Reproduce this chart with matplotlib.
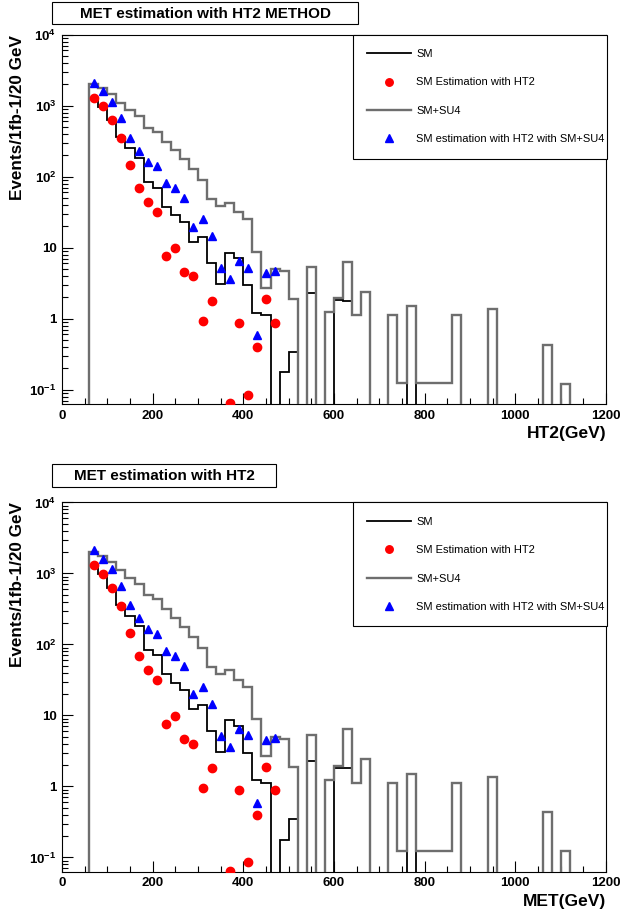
import numpy as np
import matplotlib
matplotlib.use("Agg")
import matplotlib.pyplot as plt
from matplotlib.patches import Rectangle
from matplotlib.ticker import FixedLocator, FixedFormatter, MultipleLocator, LogLocator, NullFormatter

plt.rcParams['font.family'] = ['Liberation Sans', 'DejaVu Sans']
plt.rcParams['mathtext.fontset'] = 'custom'
plt.rcParams['mathtext.rm'] = 'Liberation Sans:bold'
plt.rcParams['mathtext.bf'] = 'Liberation Sans:bold'
plt.rcParams['mathtext.it'] = 'Liberation Sans:bold:italic'

# ---------------- data (20 GeV bins, 0-1200) ----------------
bin_edges = np.arange(0, 1220, 20)

sm = [0, 0, 0, 1300, 970, 630, 360, 251, 184, 84,
      70, 38, 29, 23, 12.2, 14, 6.0, 3.05, 8.5, 7.2,
      3.0, 1.22, 1.13, 0, 0.176, 0.343, 0, 2.28, 0, 0,
      1.83, 1.79, 1.13, 2.4, 0, 0, 1.13, 0.123, 0, 0.123,
      0.123, 0.123, 0.123, 1.13, 0, 0, 0, 1.37, 0, 0,
      0, 0, 0, 0.43, 0, 0.122, 0, 0, 0, 0]

sm_su4 = [0, 0, 0, 2000, 1758, 1445, 1100, 869, 716, 490,
          430, 311, 238, 176, 127, 90, 48, 38.7, 43, 31.8,
          25.4, 8.8, 2.68, 4.96, 4.7, 1.88, 0, 5.3, 0, 1.25,
          1.94, 6.35, 1.13, 2.4, 0, 0, 1.13, 0.123, 1.52, 0.123,
          0.123, 0.123, 0.123, 1.13, 0, 0, 0, 1.37, 0, 0,
          0, 0, 0, 0.43, 0, 0.122, 0, 0, 0, 0]

est_x = [70, 90, 110, 130, 150, 170, 190, 210, 230, 250,
         270, 290, 310, 330, 370, 390, 410, 430, 450, 470]
est_sm = [1300, 975, 629, 352, 145, 69, 44, 31.5, 7.6, 9.8,
          4.6, 4.0, 0.94, 1.79, 0.065, 0.88, 0.085, 0.40, 1.88, 0.88]

est_su4_x = [70, 90, 110, 130, 150, 170, 190, 210, 230, 250,
             270, 290, 310, 330, 350, 370, 390, 410, 430, 450, 470]
est_su4 = [2109, 1610, 1138, 665, 354, 232, 163, 141, 80.7, 68.7,
           50, 19.8, 25.1, 14.7, 5.13, 3.59, 6.5, 5.23, 0.589, 4.45, 4.74]

titles = ["MET estimation with HT2 METHOD", "MET estimation with HT2"]
xlabels = ["HT2(GeV)", "MET(GeV)"]
ytick_vals = [0.1, 1, 10, 100, 1000, 10000]
ytick_labels = ["$10^{-1}$", "1", "10", "$10^{2}$", "$10^{3}$", "$10^{4}$"]
xtick_vals = [0, 200, 400, 600, 800, 1000, 1200]

# ---------------- layout (pixels of a 626x913 canvas) ----------------
W, H = 626, 913
panel_bottom_px = [404, 871.7]
panel_h_px = 369.3
title_box_y = [1.7, 464.3]
title_box_w = [306, 224]


def main():
    fig = plt.figure(figsize=(W / 100, H / 100), dpi=100)

    for k in range(2):
        ax = fig.add_axes([62 / W, 1 - panel_bottom_px[k] / H, 544 / W, panel_h_px / H])

        ax.stairs(sm, bin_edges, color='black', lw=1.3, baseline=0, zorder=2, label="SM")
        ax.plot(est_x, est_sm, ls='none', marker='o', ms=6, color='red',
                zorder=4, label="SM Estimation with HT2")
        ax.stairs(sm_su4, bin_edges, color='#6e6e6e', lw=1.7, baseline=0, zorder=3, label="SM+SU4")
        ax.plot(est_su4_x, est_su4, ls='none', marker='^', ms=6, color='blue',
                zorder=5, label="SM estimation with HT2 with SM+SU4")

        ax.set_yscale('log')
        ax.set_xlim(0, 1200)
        ax.set_ylim(0.063, 1e4)

        ax.xaxis.set_major_locator(FixedLocator(xtick_vals))
        ax.xaxis.set_minor_locator(MultipleLocator(50))
        ax.yaxis.set_major_locator(FixedLocator(ytick_vals))
        ax.yaxis.set_major_formatter(FixedFormatter(ytick_labels))
        ax.yaxis.set_minor_locator(LogLocator(base=10, subs=np.arange(2, 10)))
        ax.yaxis.set_minor_formatter(NullFormatter())

        ax.tick_params(which='both', direction='in', top=False, right=False, width=0.8)
        ax.tick_params(which='major', length=8, labelsize=9.5, pad=4)
        ax.tick_params(which='minor', length=4)
        for lab in ax.get_xticklabels() + ax.get_yticklabels():
            lab.set_fontweight('bold')
        for sp in ax.spines.values():
            sp.set_linewidth(0.8)

        ax.set_xlabel(xlabels[k], loc='right', fontsize=12.5, fontweight='bold')
        ax.xaxis.set_label_coords(1.0, -0.06)
        ax.set_ylabel("Events/1fb-1/20 GeV", loc='top', fontsize=12.3, fontweight='bold')
        ax.yaxis.set_label_coords(-0.068, 1.0)

        leg = ax.legend(loc='upper left', bbox_to_anchor=(0.535, 1.0, 0.467, 0), mode='expand',
                        borderaxespad=0, fontsize=8, frameon=True, fancybox=False,
                        edgecolor='black', framealpha=1, handlelength=3.9, handletextpad=0.5,
                        borderpad=1.3, labelspacing=1.65, markerscale=0.9)
        leg.get_frame().set_linewidth(0.8)

        # title box
        y0 = title_box_y[k]
        fig.add_artist(Rectangle((52.3 / W, 1 - (y0 + 22.6) / H), title_box_w[k] / W, 22.6 / H,
                                 transform=fig.transFigure, fill=True, facecolor='white',
                                 edgecolor='black', lw=0.8))
        fig.text((52.3 + title_box_w[k] / 2) / W, 1 - (y0 + 11.8) / H, titles[k],
                 ha='center', va='center', fontsize=11, fontweight='bold')

    fig.savefig("out.png", dpi=100)


if __name__ == "__main__":
    main()
